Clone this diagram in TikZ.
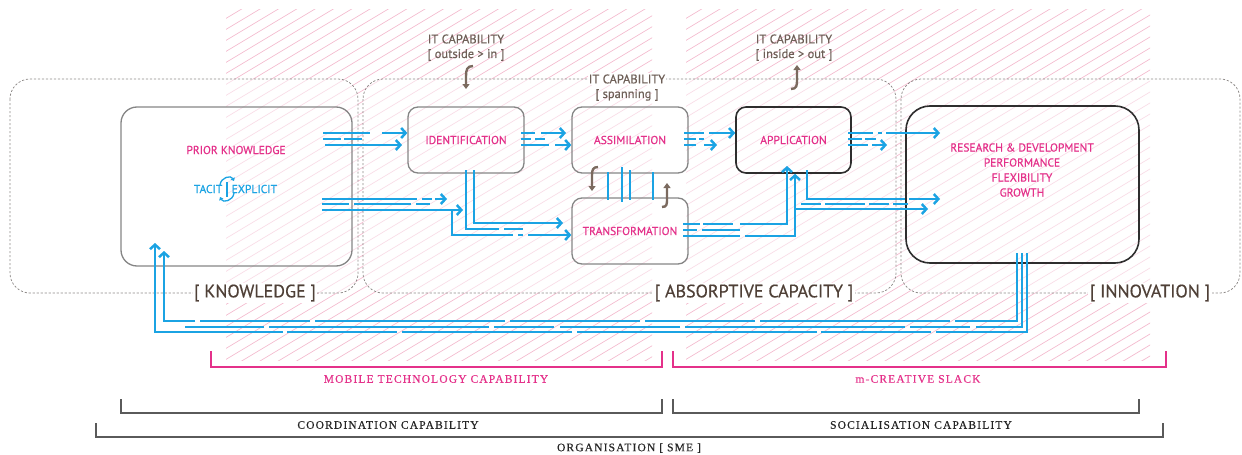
\documentclass[tikz,border=0pt]{standalone}
\usepackage{fontspec}
\setmainfont[FakeBold=0.5]{PT Sans}
\newfontfamily\brfont[LetterSpace=10,FakeBold=0.4]{Liberation Serif}
\usetikzlibrary{arrows.meta,calc}
\definecolor{cblue}{HTML}{1BA3E3}
\definecolor{cpink}{HTML}{E4318A}
\definecolor{cbrown}{HTML}{4F4037}
\definecolor{cbrownl}{HTML}{6E5F57}
\definecolor{carrow}{HTML}{7B6A5F}
\definecolor{chatch}{HTML}{F4BED1}
\definecolor{cframe}{HTML}{8E8A88}
\definecolor{cgnode}{HTML}{858585}
\definecolor{cdark}{HTML}{2E2E2E}
\definecolor{cbr}{HTML}{5A5A5A}
\newcommand\fnNode{\fontsize{11.5}{15}\selectfont}
\newcommand\fnBig{\fontsize{18}{20}\selectfont}
\newcommand\fnCap{\fontsize{12.5}{14}\selectfont}
\newcommand\fnSer{\brfont\fontsize{11.5}{13}\selectfont}
\begin{document}
\begin{tikzpicture}[x=1pt,y=-1pt,
  hatch/.style={draw=chatch,line width=0.75pt},
  frame/.style={draw=cframe,line width=0.75pt,dash pattern=on 2.2pt off 1.8pt,rounded corners=20pt,fill=white,fill opacity=0.5},
  gbox/.style={draw=cgnode,line width=1.3pt,rounded corners=10pt,inner sep=0pt,text=cpink,font=\fnNode},
  dbox/.style={gbox,draw=cdark,line width=1.6pt},
  ptext/.style={text=cpink,font=\fnNode,inner sep=0pt},
  btext/.style={text=cblue,font=\fnNode,inner sep=0pt},
  itlab/.style={text=cbrownl,font=\fnCap,inner sep=1pt},
  flab/.style={text=cbrown,font=\fnBig,fill=white,inner sep=1.5pt},
  cline/.style={draw=cblue,line width=2.5pt},
  arr/.style={-{Straight Barb[length=4.5pt,width=10pt]}},
  curly/.style={draw=carrow,line width=2.4pt,-{Triangle[length=5pt,width=7pt]}},
  pbr/.style={draw=cpink,line width=1.3pt},
  gbr/.style={draw=cbr,line width=1.3pt},
  pbl/.style={text=cpink,font=\fnSer,inner sep=0pt},
  gbl/.style={text=black!85,font=\fnSer,inner sep=0pt}
]
\useasboundingbox (0,0) rectangle (1242,455);
% hatching
\begin{scope}
\clip (226,9) rectangle (652,360);
\foreach \c in {0,11,...,660} \draw[hatch] (220,\c) -- ++(440,-264);
\end{scope}
\begin{scope}
\clip (686,9) rectangle (1150,360);
\foreach \c in {0,11,...,660} \draw[hatch] (680,\c) -- ++(480,-288);
\end{scope}
% frames
\draw[frame] (10,79) rectangle (358,293);
\draw[frame] (363,79) rectangle (896,293);
\draw[frame] (901,79) rectangle (1240,293);
\node[flab] (klab) at (255,293) {[ KNOWLEDGE ]};
\node[flab] (alab) at (754,293) {[ ABSORPTIVE CAPACITY ]};
\node[flab] (ilab) at (1150,293) {[ INNOVATION ]};
% IT capability labels
\node[itlab] (it1) at (466,39) {IT CAPABILITY};
\node[itlab] (it1b) at (466,55) {[ outside > in ]};
\node[itlab] (it2) at (794,39) {IT CAPABILITY};
\node[itlab] (it2b) at (794,55) {[ inside > out ]};
\node[itlab,fill=white] (it3) at (627,79) {IT CAPABILITY};
\node[itlab] (it3b) at (627,95) {[ spanning ]};
% nodes
\node[gbox,rounded corners=16pt,minimum width=231pt,minimum height=159pt] (pk) at (236.5,186.5) {};
\node[ptext] (pkt) at (236,150) {PRIOR KNOWLEDGE};
\node[btext,anchor=east] (tacit) at (222.5,189) {TACIT};
\node[btext,anchor=west] (explicit) at (231.5,189) {EXPLICIT};
\draw[cblue,line width=1.2pt] (227,182) -- (227,197);
\draw[cblue,line width=1.3pt,-{Triangle[length=3pt,width=4.5pt]}] (220,185) .. controls (221,177) and (231,175) .. (234,181);
\draw[cblue,line width=1.3pt,-{Triangle[length=3pt,width=4.5pt]}] (234,193) .. controls (233,201) and (223,203) .. (220,197);
\node[gbox,minimum width=116pt,minimum height=66pt] (ident) at (466,140) {IDENTIFICATION};
\node[gbox,minimum width=116pt,minimum height=66pt] (assim) at (630,140) {ASSIMILATION};
\node[gbox,minimum width=116pt,minimum height=66pt] (trans) at (630,231) {TRANSFORMATION};
\node[dbox,minimum width=115pt,minimum height=66pt] (appl) at (793.5,140) {APPLICATION};
\node[dbox,rounded corners=24pt,minimum width=233pt,minimum height=157pt] (rd) at (1022.5,184.5) {};
\node[ptext,align=center] (rdt) at (1022,170) {RESEARCH \& DEVELOPMENT\\PERFORMANCE\\FLEXIBILITY\\GROWTH};
% curly brown arrows
\draw[curly] (473,66) .. controls (467,66) and (466,70) .. (466,76) -- (466,89);
\draw[curly] (791,89) .. controls (797,89) and (797,85) .. (797,80) -- (797,65);
\draw[curly] (598,167) .. controls (593,167) and (592,170) .. (592,175) -- (592,191);
\draw[curly] (662,207) .. controls (667,207) and (667,204) .. (667,199) -- (667,183);
% assim <-> trans verticals
\draw[cline] (608,172) -- (608,200);
\draw[cline] (622,167) -- (622,202);
\draw[cline] (630,170) -- (630,200);
\draw[cline] (653,172) -- (653,200);
% A: pk -> ident
\draw[cline,arr,dash pattern=on 47pt off 12pt on 60pt] (323,133) -- (ident.west |- 0,133);
\draw[cline,dash pattern=on 18pt off 3pt on 30pt] (323,139) -- (362,139);
\draw[cline,arr] (325,145) -- (402,145);
% B: ident -> assim
\draw[cline,arr,dash pattern=on 14pt off 6pt on 60pt] (521,133) -- (566,133);
\draw[cline,dash pattern=on 10pt off 4pt on 20pt] (521,139) -- (545,139);
\draw[cline,arr,dash pattern=on 28pt off 6pt on 60pt] (521,145) -- (assim.west |- 0,145);
% C: assim -> appl
\draw[cline,arr,dash pattern=on 20pt off 5pt on 60pt] (684,133) -- (appl.west |- 0,133);
\draw[cline,dash pattern=on 12pt off 3pt on 20pt] (684,139) -- (704,139);
\draw[cline,arr,dash pattern=on 12pt off 8pt on 30pt] (684,145) -- (717,145);
% D: appl -> rd
\draw[cline,arr,dash pattern=on 25pt off 5pt on 4pt off 4pt on 80pt off 1pt] (848,133) -- (940,133);
\draw[cline,dash pattern=on 14pt off 3pt on 20pt] (848,139) -- (876,139);
\draw[cline,arr,dash pattern=on 20pt off 4pt on 30pt] (848,145) -- (887,145);
% E: pk lower
\draw[cline,arr,dash pattern=on 95pt off 5pt on 10pt off 3pt on 30pt off 1pt] (322,199) -- (447,199);
\draw[cline,dash pattern=on 27pt off 5pt on 57pt off 5pt] (322,204) -- (430,204);
\draw[cline,arr] (322,210) -- (463,210);
\draw[cline,arr,dash pattern=on 86pt off 5pt on 5pt off 5pt on 80pt off 1pt] (452,210) |- (trans.west |- 0,235);
% F: ident -> trans
\draw[cline,arr] (474,170) |- (563,223);
\draw[cline,dash pattern=on 92pt off 5pt on 20pt off 1pt] (466,170) |- (523,229);
% G: trans -> appl
\draw[cline,arr,dash pattern=on 17pt off 3pt on 30pt off 7pt on 200pt off 1pt] (683,224) -| (787,166);
\draw[cline,dash pattern=on 14pt off 5pt on 40pt off 1pt] (683,230) -- (740,230);
\draw[cline,arr,dash pattern=on 57pt off 5pt on 200pt off 1pt] (683,236) -| (appl.south -| 795,0);
% H: appl -> rd lower
\draw[cline,arr,dash pattern=on 127pt off 4pt on 60pt off 1pt] (807,170) |- (940,199);
\draw[cline,dash pattern=on 20pt off 4pt on 40pt off 4pt] (801,204) -- (908,204);
\draw[cline,arr] (795,209) -- (928,209);
% I: feedback rd -> pk
\draw[cline,arr,dash pattern=on 130pt off 5pt on 190pt off 5pt on 110pt off 5pt] (1017,253) |- (164,321) -- (164,251);
\draw[cline,dash pattern=on 120pt off 6pt on 60pt off 5pt on 220pt off 5pt] (1022,253) |- (185,327);
\draw[cline,arr,dash pattern=on 170pt off 5pt on 110pt off 4pt on 240pt off 5pt] (1027,253) |- (155,332) -- (155,243);
% brackets
\draw[pbr] (211,351) |- (662,367) -- (662,351);
\node[pbl] (mtc) at (436,379) {MOBILE TECHNOLOGY CAPABILITY};
\draw[pbr] (673,351) |- (1166,367) -- (1166,351);
\node[pbl] (mcs) at (918,379) {m-CREATIVE SLACK};
\draw[gbr] (121,399) |- (662,413) -- (662,399);
\node[gbl] (coc) at (388,425) {COORDINATION CAPABILITY};
\draw[gbr] (673,399) |- (1139,413) -- (1139,399);
\node[gbl] (soc) at (921,425) {SOCIALISATION CAPABILITY};
\draw[gbr] (96,423) |- (1163,437) -- (1163,423);
\node[gbl] (org) at (629,448) {ORGANISATION [ SME ]};
\end{tikzpicture}
\end{document}
